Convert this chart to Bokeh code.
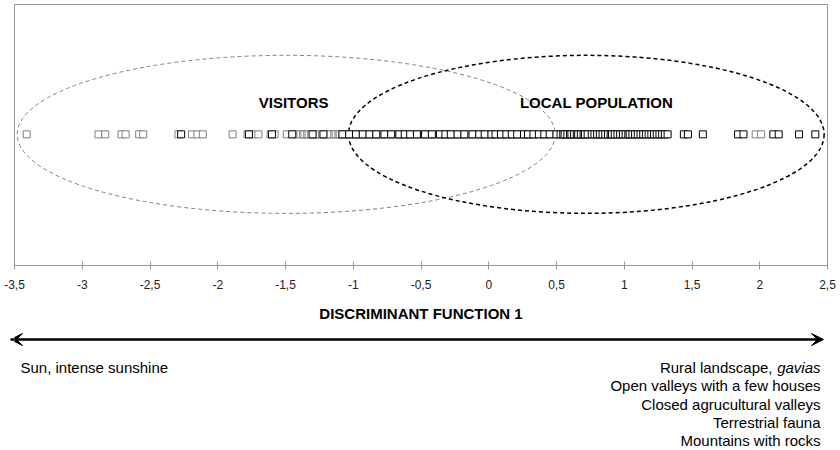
from bokeh.plotting import figure
from bokeh.layouts import column
from bokeh.models import Range1d, FixedTicker, Arrow, VeeHead
from bokeh.core.properties import value
from bokeh.embed import file_html
from bokeh.resources import INLINE

# ---- data (discriminant scores) ----
visitors = [-3.41, -2.88, -2.83, -2.71, -2.68, -2.58, -2.55, -2.29, -2.19, -2.15,
            -2.11, -1.89, -1.78, -1.74, -1.70, -1.61, -1.58, -1.49, -1.43, -1.39,
            -1.37, -1.36, -1.34, -1.33, -1.31, -1.29, -1.28, -1.26, -1.25, -1.23,
            -1.21, -1.20, -1.18, -1.17, -1.14, -1.13, -1.11, -1.10, -1.08, -1.06,
            -1.05, -1.03, -1.02, -0.99, -0.98, -0.96, -0.95, -0.93, -0.92, -0.91,
            -0.88, -0.87, -0.85, -0.84, -0.82, -0.80, -0.79, -0.78, -0.76, -0.74,
            -0.72, -0.70, -0.69, -0.67, -0.66, -0.65, -0.63, -0.61, -0.59, -0.58,
            -0.57, -0.55, -0.54, -0.52, -0.50, -0.49, -0.47, -0.46, -0.44, -0.43,
            -0.41, -0.40, -0.39, -0.36, -0.35, -0.33, -0.32, -0.31, -0.29, -0.27,
            -0.26, -0.24, -0.22, -0.21, -0.20, -0.18, -0.17, -0.15, -0.14, -0.13,
            -0.11, -0.09, -0.07, -0.06, -0.04, -0.03, -0.02, 0.01, 0.02, 0.04,
            0.05, 0.06, 0.09, 0.10, 0.12, 0.13, 0.14, 0.17, 0.18, 0.20,
            0.21, 0.23, 0.25, 0.27, 0.28, 0.30, 0.32, 0.33, 0.36, 0.39,
            0.41, 0.43, 0.45, 0.48, 0.52, 0.57, 0.61, 0.66, 0.72, 0.80,
            0.87, 0.95, 1.05, 1.12, 1.97, 2.01]
local = [-2.27, -1.77, -1.60, -1.45, -1.30, -1.22, -1.08, -1.03, -0.98, -0.93,
         -0.88, -0.83, -0.77, -0.72, -0.66, -0.62, -0.58, -0.53, -0.47, -0.42,
         -0.36, -0.32, -0.28, -0.23, -0.18, -0.12, -0.07, -0.03, 0.02, 0.05,
         0.09, 0.13, 0.17, 0.21, 0.26, 0.29, 0.33, 0.37, 0.41, 0.45,
         0.50, 0.53, 0.55, 0.56, 0.58, 0.60, 0.61, 0.63, 0.65, 0.66,
         0.68, 0.70, 0.71, 0.73, 0.76, 0.78, 0.80, 0.82, 0.84, 0.86,
         0.88, 0.90, 0.91, 0.93, 0.95, 0.97, 0.99, 1.01, 1.03, 1.04,
         1.06, 1.08, 1.10, 1.12, 1.14, 1.16, 1.18, 1.20, 1.22, 1.24,
         1.26, 1.28, 1.30, 1.32, 1.44, 1.47, 1.58, 1.84, 1.88, 2.10,
         2.14, 2.29, 2.41]

group_labels = ["VISITORS", "LOCAL POPULATION"]
group_label_x = [-1.44, 0.795]
group_centers = [-1.495, 0.72]
group_widths = [3.97, 3.51]

tick_values = [-3.5, -3.0, -2.5, -2.0, -1.5, -1.0, -0.5, 0.0, 0.5, 1.0, 1.5, 2.0, 2.5]
tick_labels = ["-3,5", "-3", "-2,5", "-2", "-1,5", "-1", "-0,5", "0", "0,5", "1", "1,5", "2", "2,5"]

axis_title = "DISCRIMINANT FUNCTION 1"
left_notes = ["Sun, intense sunshine"]
right_notes = ["Open valleys with a few houses", "Closed agrucultural valleys",
               "Terrestrial fauna", "Mountains with rocks"]

FONT = value("Liberation Sans")
W = 840
H1 = 330

p = figure(width=W, height=H1, x_range=Range1d(-3.5, 2.5), y_range=Range1d(-1.0, 0.99),
           output_backend="svg", toolbar_location=None,
           min_border_left=14, min_border_right=13, min_border_top=4, min_border_bottom=65)
p.xgrid.visible = False
p.ygrid.visible = False
p.yaxis.visible = False
p.outline_line_color = "#999999"
p.outline_line_width = 1

ax = p.xaxis[0]
ax.ticker = FixedTicker(ticks=tick_values)
ax.major_label_overrides = {v: s for v, s in zip(tick_values, tick_labels)}
ax.axis_line_color = "#999999"
ax.major_tick_line_color = "#999999"
ax.major_tick_in = 4
ax.major_tick_out = 4
ax.minor_tick_line_color = None
ax.major_label_text_font = "Liberation Sans"
ax.major_label_text_font_size = "12px"
ax.major_label_text_color = "#222222"
ax.major_label_standoff = 10
ax.axis_label = axis_title
ax.axis_label_text_font = "Liberation Sans"
ax.axis_label_text_font_size = "15px"
ax.axis_label_text_font_style = "bold"
ax.axis_label_text_color = "#000000"
ax.axis_label_standoff = 13

ell_h = 1.205
p.ellipse(x=[group_centers[0]], y=[0], width=[group_widths[0]], height=[ell_h],
          fill_color=None, line_color="#808080", line_width=1, line_dash="4 3")
p.ellipse(x=[group_centers[1]], y=[0], width=[group_widths[1]], height=[ell_h],
          fill_color=None, line_color="#000000", line_width=1.5, line_dash="4 3")

p.scatter(x=visitors, y=[0] * len(visitors), marker="square", size=7,
          line_color="#808080", fill_color="white", line_width=1)
p.scatter(x=local, y=[0] * len(local), marker="square", size=7,
          line_color="#000000", fill_color="white", line_width=1)

p.text(x=group_label_x, y=[0.245, 0.245], text=group_labels,
       text_align="center", text_baseline="middle", text_font=FONT,
       text_font_size="15px", text_font_style="bold", text_color="#000000")

# ---- lower panel: arrow and interpretation (x in page pixels, frame aligned 14..827) ----
H2 = 120
q = figure(width=W, height=H2, x_range=Range1d(14, 827), y_range=Range1d(H2, 0),
           output_backend="svg", toolbar_location=None,
           min_border_left=14, min_border_right=13, min_border_top=0, min_border_bottom=0)
q.axis.visible = False
q.grid.visible = False
q.outline_line_color = None

q.add_layout(Arrow(x_start=10, y_start=9, x_end=823, y_end=9, line_width=2.5, line_color="#000000",
                   start=VeeHead(size=12, fill_color="#000000", line_color="#000000"),
                   end=VeeHead(size=12, fill_color="#000000", line_color="#000000")))

q.text(x=[20], y=[37], text=left_notes, text_align="left", text_baseline="middle",
       text_font=FONT, text_font_size="15px", text_color="#000000")
q.text(x=[820], y=[37], text=["gavias"], text_align="right", text_baseline="middle",
       text_font=FONT, text_font_size="15px", text_font_style="italic", text_color="#000000")
q.text(x=[772], y=[37], text=["Rural landscape,"], text_align="right", text_baseline="middle",
       text_font=FONT, text_font_size="15px", text_color="#000000")
q.text(x=[820] * len(right_notes), y=[55.3, 73.6, 92, 110.3], text=right_notes,
       text_align="right", text_baseline="middle",
       text_font=FONT, text_font_size="15px", text_color="#000000")

layout = column(p, q, spacing=0)
open("out.html", "w").write(file_html(layout, INLINE))
